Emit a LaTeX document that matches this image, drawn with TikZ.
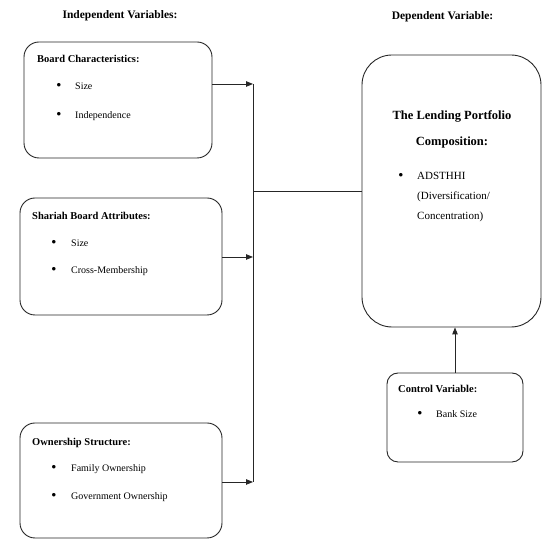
\documentclass[tikz,border=0pt]{standalone}
\usepackage{fontspec}
\setmainfont{Liberation Serif}
\usetikzlibrary{arrows.meta}
\begin{document}
\begin{tikzpicture}[x=1pt,y=1pt,
  box/.style={draw=black!85, line width=0.9pt, rounded corners=15pt, inner sep=0pt},
  conn/.style={draw=black!85, line width=0.9pt},
  arr/.style={conn, -{Triangle[length=7pt,width=5.5pt]}},
  hdr/.style={font=\fontsize{11.5}{13}\selectfont\bfseries, anchor=base, inner sep=0pt},
  ttl/.style={font=\fontsize{10.5}{12}\selectfont\bfseries, anchor=base west, inner sep=0pt},
  txt/.style={font=\fontsize{10}{12}\selectfont, anchor=base west, inner sep=0pt},
  bul/.style={font=\fontsize{13}{14}\selectfont\bfseries, anchor=base, inner sep=0pt},
  big/.style={font=\fontsize{12.5}{14}\selectfont\bfseries, anchor=base, inner sep=0pt},
  btxt/.style={font=\fontsize{11}{13}\selectfont, anchor=base west, inner sep=0pt}
]
\useasboundingbox (0,0) rectangle (550,548);

% headers
\node[hdr] (hind) at (120,529) {Independent Variables:};
\node[hdr] (hdep) at (442.5,528) {Dependent Variable:};

% boxes
\node[box, minimum width=188pt, minimum height=116pt] (b1) at (118,448) {};
\node[box, minimum width=202pt, minimum height=117pt] (b2) at (121,291.5) {};
\node[box, minimum width=202pt, minimum height=115pt] (b3) at (121,67.5) {};
\node[box, rounded corners=30pt, minimum width=179pt, minimum height=272pt] (dv) at (451.5,357) {};
\node[box, rounded corners=11pt, minimum width=136pt, minimum height=89pt] (cv) at (455,130.5) {};

% box 1 text
\node[ttl] (t1) at (37,485) {Board Characteristics:};
\node[bul] (b1a) at (59,458) {•};
\node[txt] (s1a) at (75,458) {Size};
\node[bul] (b1b) at (59,429) {•};
\node[txt] (s1b) at (75,429) {Independence};

% box 2 text
\node[ttl] (t2) at (32,328) {Shariah Board Attributes:};
\node[bul] (b2a) at (54,301) {•};
\node[txt] (s2a) at (71,301) {Size};
\node[bul] (b2b) at (54,274) {•};
\node[txt] (s2b) at (71,274) {Cross-Membership};

% box 3 text
\node[ttl] (t3) at (32,102) {Ownership Structure:};
\node[bul] (b3a) at (54,76) {•};
\node[txt] (s3a) at (71,76) {Family Ownership};
\node[bul] (b3b) at (54,48) {•};
\node[txt] (s3b) at (71,48) {Government Ownership};

% dependent text
\node[big] (d1) at (452,428) {The Lending Portfolio};
\node[big] (d2) at (452,402) {Composition:};
\node[bul] (db) at (401,368) {•};
\node[btxt] (da) at (417,368) {ADSTHHI};
\node[btxt] (dc) at (417,348) {(Diversification/};
\node[btxt] (dd) at (417,328) {Concentration)};

% control text
\node[ttl] (ct) at (398,155) {Control Variable:};
\node[bul] (cb) at (420,130) {•};
\node[txt] (cs) at (436,130) {Bank Size};

% connectors
\coordinate (j1) at (253,464);
\coordinate (j2) at (253,291);
\coordinate (j3) at (253,66);
\coordinate (jm) at (253,357);
\draw[arr] (b1.east |- j1) -- (j1);
\draw[arr] (b2.east |- j2) -- (j2);
\draw[arr] (b3.east |- j3) -- (j3);
\draw[conn] (j1) -- (j3);
\draw[conn] (jm) -- (dv.west);
\draw[arr] (cv.north) -- (cv.north |- dv.south);
\end{tikzpicture}
\end{document}
